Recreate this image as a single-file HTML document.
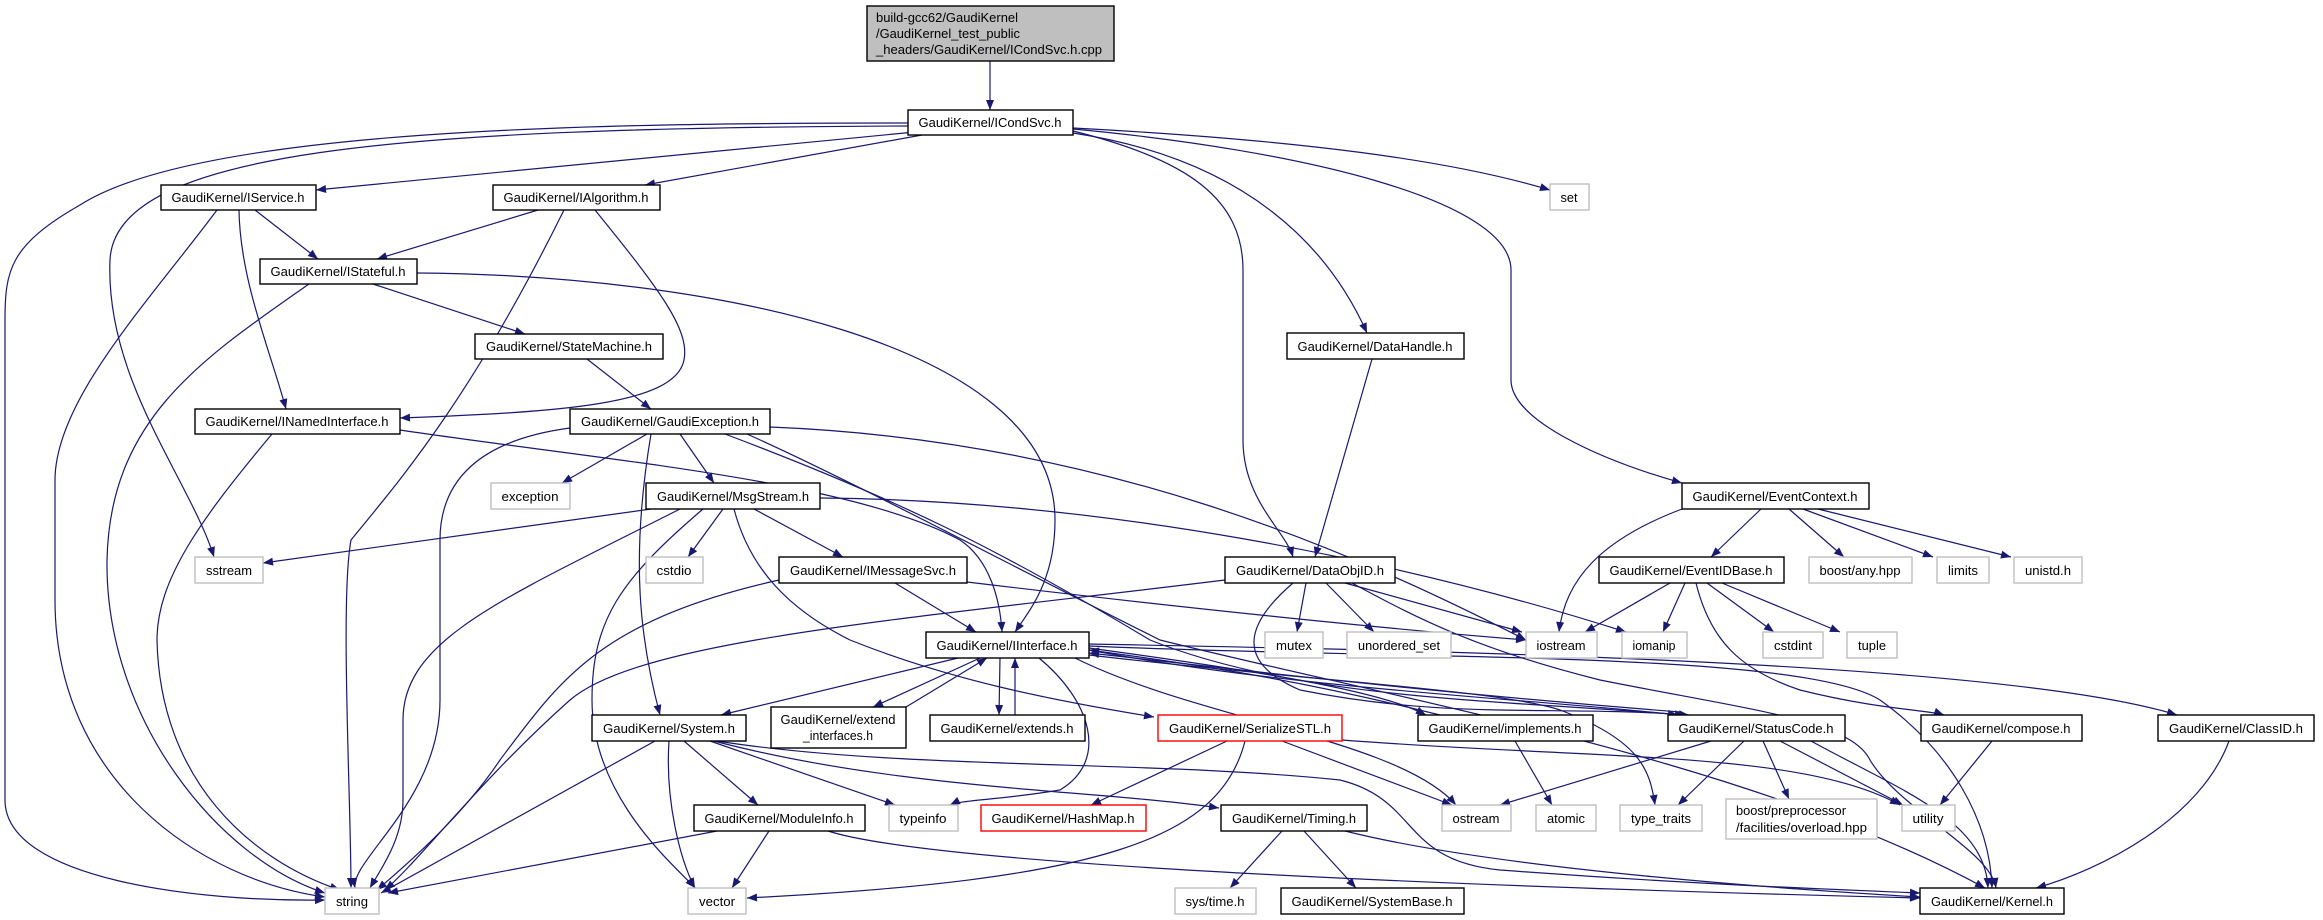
<!DOCTYPE html>
<html><head><meta charset="utf-8"><style>
html,body{margin:0;padding:0;background:#fff;width:2323px;height:920px;overflow:hidden}
svg{display:block}
text{font-family:"Liberation Sans",Arial,sans-serif;font-size:12.5px;fill:#000}
.n rect{fill:#fff;stroke:#000;stroke-width:1.4}
.g rect{fill:#fff;stroke:#bfbfbf;stroke-width:1.4}
.r rect{fill:#fff;stroke:#ff0000;stroke-width:1.4}
path.e{fill:none;stroke:#191970;stroke-width:1.2}
</style></head><body>
<svg width="2323" height="920" viewBox="0 0 2323 920" xmlns="http://www.w3.org/2000/svg">
<defs><marker id="a" viewBox="0 0 10 8" refX="10" refY="4" markerWidth="11" markerHeight="8" markerUnits="userSpaceOnUse" orient="auto"><path d="M0,0L10,4L0,8z" fill="#191970"/></marker></defs>
<g marker-end="url(#a)">
<path class="e" d="M990,61L990,110"/>
<path class="e" d="M908,123C600,123 200,128 80,205C10,245 5,270 5,320L5,800C5,880 200,902 325,900"/>
<path class="e" d="M908,126C400,128 115,150 110,260C105,380 190,480 214,557"/>
<path class="e" d="M915,132L316,190"/>
<path class="e" d="M922,135L645,185"/>
<path class="e" d="M1073,128C1300,140 1450,160 1550,190"/>
<path class="e" d="M1073,131C1190,160 1243,200 1243,270L1243,440C1243,500 1285,530 1293,557"/>
<path class="e" d="M1073,133C1250,160 1330,250 1367,333"/>
<path class="e" d="M1073,129C1300,150 1511,200 1511,270L1511,380C1511,420 1600,460 1682,483"/>
<path class="e" d="M255,210L318,259"/>
<path class="e" d="M239,210C240,280 270,350 286,409"/>
<path class="e" d="M217,210C150,300 55,400 55,480L55,600C55,780 200,880 325,897"/>
<path class="e" d="M538,210L377,259"/>
<path class="e" d="M564,210C470,400 400,480 351,540C340,600 351,800 351,888"/>
<path class="e" d="M595,210C660,290 690,330 684,360C675,405 560,412 400,418"/>
<path class="e" d="M373,284L525,334"/>
<path class="e" d="M309,284C200,360 110,420 107,560C105,720 220,860 325,893"/>
<path class="e" d="M417,273C700,275 1055,340 1055,520C1055,580 1030,610 1015,632"/>
<path class="e" d="M587,359L651,409"/>
<path class="e" d="M272,434C200,520 157,580 157,640C160,780 250,860 340,890"/>
<path class="e" d="M400,430C600,460 850,480 960,540C990,560 1000,600 1002,632"/>
<path class="e" d="M647,434L562,483"/>
<path class="e" d="M680,434L714,483"/>
<path class="e" d="M570,428C480,440 440,480 440,540L440,700C440,800 350,860 355,888"/>
<path class="e" d="M651,434C630,560 640,640 660,715"/>
<path class="e" d="M770,427C1100,440 1350,550 1526,640"/>
<path class="e" d="M725,434C900,500 1000,550 1150,640C1300,700 1500,700 1685,715"/>
<path class="e" d="M747,434C850,480 1000,560 1160,640C1400,700 1750,760 1985,888"/>
<path class="e" d="M651,509L263,563"/>
<path class="e" d="M680,509C500,600 403,640 403,720L403,800C403,840 380,870 370,888"/>
<path class="e" d="M723,509L688,557"/>
<path class="e" d="M754,509L843,557"/>
<path class="e" d="M703,509C620,580 592,620 592,700C592,800 680,870 695,888"/>
<path class="e" d="M734,509C750,570 790,610 850,640C950,680 1050,700 1154,717"/>
<path class="e" d="M820,498C1100,500 1400,560 1626,632"/>
<path class="e" d="M779,580C600,620 560,680 500,760C460,820 400,870 377,890"/>
<path class="e" d="M895,583L976,632"/>
<path class="e" d="M967,582C1200,610 1400,630 1526,640"/>
<path class="e" d="M958,658L721,715"/>
<path class="e" d="M980,658L873,707"/>
<path class="e" d="M906,707L987,658"/>
<path class="e" d="M1000,658L999,715"/>
<path class="e" d="M1015,715L1015,658"/>
<path class="e" d="M1039,658C1090,700 1110,760 1060,790C1000,800 960,800 950,805"/>
<path class="e" d="M1089,648C1250,670 1380,690 1426,715"/>
<path class="e" d="M1440,715C1300,680 1200,665 1089,650"/>
<path class="e" d="M1089,650C1300,690 1550,700 1678,715"/>
<path class="e" d="M1680,712C1400,690 1200,665 1089,653"/>
<path class="e" d="M1075,658C1200,720 1400,740 1456,805"/>
<path class="e" d="M1089,655C1300,680 1500,690 1560,710C1640,740 1650,770 1655,805"/>
<path class="e" d="M1089,646C1400,660 1800,650 1880,700C1950,750 1990,820 1992,888"/>
<path class="e" d="M1089,644C1400,650 2000,660 2177,715"/>
<path class="e" d="M655,741L381,893"/>
<path class="e" d="M669,741C665,800 680,860 695,888"/>
<path class="e" d="M684,741L758,805"/>
<path class="e" d="M710,741L895,805"/>
<path class="e" d="M714,741C900,790 1100,790 1219,808"/>
<path class="e" d="M717,741C900,770 1150,760 1340,780C1420,800 1400,860 1500,870C1700,885 1850,890 1920,893"/>
<path class="e" d="M717,831L388,893"/>
<path class="e" d="M769,831L732,888"/>
<path class="e" d="M828,831C950,870 1600,890 1920,898"/>
<path class="e" d="M1227,741L1091,805"/>
<path class="e" d="M1245,741C1220,840 1100,880 747,898"/>
<path class="e" d="M1282,741L1452,805"/>
<path class="e" d="M1342,740C1600,760 1800,750 1900,805"/>
<path class="e" d="M1225,580C900,620 640,640 570,700C480,780 420,860 385,890"/>
<path class="e" d="M1306,583L1297,632"/>
<path class="e" d="M1326,583L1374,632"/>
<path class="e" d="M1345,583L1522,632"/>
<path class="e" d="M1293,583C1250,620 1230,660 1300,690C1450,720 1550,705 1689,715"/>
<path class="e" d="M1352,583C1420,620 1480,650 1600,680C1750,710 1850,720 1870,760C1900,810 1990,850 1996,888"/>
<path class="e" d="M1372,359L1315,557"/>
<path class="e" d="M1682,509C1600,540 1565,580 1559,632"/>
<path class="e" d="M1761,509L1711,557"/>
<path class="e" d="M1789,509L1844,557"/>
<path class="e" d="M1803,509L1933,557"/>
<path class="e" d="M1818,509L2011,557"/>
<path class="e" d="M1670,583L1585,632"/>
<path class="e" d="M1685,583L1663,632"/>
<path class="e" d="M1707,583L1774,632"/>
<path class="e" d="M1722,583L1840,632"/>
<path class="e" d="M1696,583C1710,640 1740,670 1800,690C1880,710 1930,710 1944,715"/>
<path class="e" d="M1515,741L1552,805"/>
<path class="e" d="M1711,741L1500,805"/>
<path class="e" d="M1744,741L1678,805"/>
<path class="e" d="M1763,741L1789,799"/>
<path class="e" d="M1780,741L1903,805"/>
<path class="e" d="M1811,741C1900,790 1985,820 1988,888"/>
<path class="e" d="M1992,741L1940,805"/>
<path class="e" d="M2229,741C2200,820 2100,870 2036,888"/>
<path class="e" d="M1282,831L1230,888"/>
<path class="e" d="M1304,831L1356,888"/>
<path class="e" d="M1345,831C1500,870 1800,890 1920,897"/>
</g>

<g class="n"><rect x="867" y="6" width="247" height="55" style="fill:#bfbfbf"/>
<text x="876" y="22" textLength="142" lengthAdjust="spacingAndGlyphs">build-gcc62/GaudiKernel</text>
<text x="876" y="38" textLength="144" lengthAdjust="spacingAndGlyphs">/GaudiKernel_test_public</text>
<text x="876" y="54" textLength="226" lengthAdjust="spacingAndGlyphs">_headers/GaudiKernel/ICondSvc.h.cpp</text></g>

<g text-anchor="middle">
<g class="n"><rect x="908" y="110" width="165" height="25"/><text x="990" y="127" textLength="143" lengthAdjust="spacingAndGlyphs">GaudiKernel/ICondSvc.h</text></g>
<g class="n"><rect x="161" y="185" width="155" height="25"/><text x="238" y="202" textLength="133" lengthAdjust="spacingAndGlyphs">GaudiKernel/IService.h</text></g>
<g class="n"><rect x="493" y="185" width="167" height="25"/><text x="576" y="202" textLength="145" lengthAdjust="spacingAndGlyphs">GaudiKernel/IAlgorithm.h</text></g>
<g class="g"><rect x="1550" y="184" width="39" height="26"/><text x="1569" y="202" textLength="17" lengthAdjust="spacingAndGlyphs">set</text></g>
<g class="n"><rect x="260" y="259" width="157" height="25"/><text x="338" y="276" textLength="135" lengthAdjust="spacingAndGlyphs">GaudiKernel/IStateful.h</text></g>
<g class="n"><rect x="475" y="334" width="188" height="25"/><text x="569" y="351" textLength="166" lengthAdjust="spacingAndGlyphs">GaudiKernel/StateMachine.h</text></g>
<g class="n"><rect x="1287" y="333" width="177" height="26"/><text x="1375" y="351" textLength="155" lengthAdjust="spacingAndGlyphs">GaudiKernel/DataHandle.h</text></g>
<g class="n"><rect x="195" y="409" width="205" height="25"/><text x="297" y="426" textLength="183" lengthAdjust="spacingAndGlyphs">GaudiKernel/INamedInterface.h</text></g>
<g class="n"><rect x="570" y="409" width="200" height="25"/><text x="670" y="426" textLength="178" lengthAdjust="spacingAndGlyphs">GaudiKernel/GaudiException.h</text></g>
<g class="g"><rect x="491" y="483" width="79" height="26"/><text x="530" y="501" textLength="57" lengthAdjust="spacingAndGlyphs">exception</text></g>
<g class="n"><rect x="646" y="483" width="174" height="26"/><text x="733" y="501" textLength="152" lengthAdjust="spacingAndGlyphs">GaudiKernel/MsgStream.h</text></g>
<g class="n"><rect x="1682" y="483" width="187" height="26"/><text x="1775" y="501" textLength="165" lengthAdjust="spacingAndGlyphs">GaudiKernel/EventContext.h</text></g>
<g class="g"><rect x="195" y="557" width="68" height="26"/><text x="229" y="575" textLength="46" lengthAdjust="spacingAndGlyphs">sstream</text></g>
<g class="g"><rect x="646" y="557" width="57" height="26"/><text x="674" y="575" textLength="35" lengthAdjust="spacingAndGlyphs">cstdio</text></g>
<g class="n"><rect x="779" y="557" width="188" height="26"/><text x="873" y="575" textLength="166" lengthAdjust="spacingAndGlyphs">GaudiKernel/IMessageSvc.h</text></g>
<g class="n"><rect x="1225" y="557" width="170" height="26"/><text x="1310" y="575" textLength="148" lengthAdjust="spacingAndGlyphs">GaudiKernel/DataObjID.h</text></g>
<g class="n"><rect x="1599" y="557" width="185" height="26"/><text x="1691" y="575" textLength="163" lengthAdjust="spacingAndGlyphs">GaudiKernel/EventIDBase.h</text></g>
<g class="g"><rect x="1809" y="557" width="103" height="26"/><text x="1860" y="575" textLength="81" lengthAdjust="spacingAndGlyphs">boost/any.hpp</text></g>
<g class="g"><rect x="1937" y="557" width="52" height="26"/><text x="1963" y="575" textLength="30" lengthAdjust="spacingAndGlyphs">limits</text></g>
<g class="g"><rect x="2014" y="557" width="68" height="26"/><text x="2048" y="575" textLength="46" lengthAdjust="spacingAndGlyphs">unistd.h</text></g>
<g class="n"><rect x="926" y="632" width="163" height="26"/><text x="1007" y="650" textLength="141" lengthAdjust="spacingAndGlyphs">GaudiKernel/IInterface.h</text></g>
<g class="g"><rect x="1265" y="632" width="58" height="26"/><text x="1294" y="650" textLength="36" lengthAdjust="spacingAndGlyphs">mutex</text></g>
<g class="g"><rect x="1347" y="632" width="104" height="26"/><text x="1399" y="650" textLength="82" lengthAdjust="spacingAndGlyphs">unordered_set</text></g>
<g class="g"><rect x="1526" y="632" width="71" height="26"/><text x="1561" y="650" textLength="49" lengthAdjust="spacingAndGlyphs">iostream</text></g>
<g class="g"><rect x="1622" y="632" width="65" height="26"/><text x="1654" y="650" textLength="43" lengthAdjust="spacingAndGlyphs">iomanip</text></g>
<g class="g"><rect x="1763" y="632" width="60" height="26"/><text x="1793" y="650" textLength="38" lengthAdjust="spacingAndGlyphs">cstdint</text></g>
<g class="g"><rect x="1847" y="632" width="50" height="26"/><text x="1872" y="650" textLength="28" lengthAdjust="spacingAndGlyphs">tuple</text></g>
<g class="n"><rect x="592" y="715" width="154" height="26"/><text x="669" y="733" textLength="132" lengthAdjust="spacingAndGlyphs">GaudiKernel/System.h</text></g>
<g class="n"><rect x="771" y="707" width="135" height="41"/><text x="838" y="724" textLength="115" lengthAdjust="spacingAndGlyphs">GaudiKernel/extend</text><text x="838" y="740" textLength="70" lengthAdjust="spacingAndGlyphs">_interfaces.h</text></g>
<g class="n"><rect x="930" y="715" width="155" height="26"/><text x="1007" y="733" textLength="133" lengthAdjust="spacingAndGlyphs">GaudiKernel/extends.h</text></g>
<g class="r"><rect x="1158" y="715" width="184" height="26"/><text x="1250" y="733" textLength="162" lengthAdjust="spacingAndGlyphs">GaudiKernel/SerializeSTL.h</text></g>
<g class="n"><rect x="1418" y="715" width="175" height="26"/><text x="1505" y="733" textLength="153" lengthAdjust="spacingAndGlyphs">GaudiKernel/implements.h</text></g>
<g class="n"><rect x="1668" y="715" width="177" height="26"/><text x="1756" y="733" textLength="155" lengthAdjust="spacingAndGlyphs">GaudiKernel/StatusCode.h</text></g>
<g class="n"><rect x="1921" y="715" width="161" height="26"/><text x="2001" y="733" textLength="139" lengthAdjust="spacingAndGlyphs">GaudiKernel/compose.h</text></g>
<g class="n"><rect x="2158" y="715" width="156" height="26"/><text x="2236" y="733" textLength="134" lengthAdjust="spacingAndGlyphs">GaudiKernel/ClassID.h</text></g>
<g class="n"><rect x="694" y="805" width="171" height="26"/><text x="779" y="823" textLength="149" lengthAdjust="spacingAndGlyphs">GaudiKernel/ModuleInfo.h</text></g>
<g class="g"><rect x="889" y="805" width="69" height="26"/><text x="923" y="823" textLength="47" lengthAdjust="spacingAndGlyphs">typeinfo</text></g>
<g class="r"><rect x="981" y="805" width="165" height="26"/><text x="1063" y="823" textLength="143" lengthAdjust="spacingAndGlyphs">GaudiKernel/HashMap.h</text></g>
<g class="n"><rect x="1221" y="805" width="146" height="26"/><text x="1294" y="823" textLength="124" lengthAdjust="spacingAndGlyphs">GaudiKernel/Timing.h</text></g>
<g class="g"><rect x="1442" y="805" width="69" height="26"/><text x="1476" y="823" textLength="47" lengthAdjust="spacingAndGlyphs">ostream</text></g>
<g class="g"><rect x="1536" y="805" width="60" height="26"/><text x="1566" y="823" textLength="38" lengthAdjust="spacingAndGlyphs">atomic</text></g>
<g class="g"><rect x="1620" y="805" width="82" height="26"/><text x="1661" y="823" textLength="60" lengthAdjust="spacingAndGlyphs">type_traits</text></g>
<g class="g"><rect x="1726" y="799" width="151" height="40"/><text x="1736" y="815" text-anchor="start" textLength="110" lengthAdjust="spacingAndGlyphs">boost/preprocessor</text><text x="1736" y="832" text-anchor="start" textLength="131" lengthAdjust="spacingAndGlyphs">/facilities/overload.hpp</text></g>
<g class="g"><rect x="1902" y="805" width="53" height="26"/><text x="1928" y="823" textLength="31" lengthAdjust="spacingAndGlyphs">utility</text></g>
<g class="g"><rect x="325" y="888" width="54" height="26"/><text x="352" y="906" textLength="32" lengthAdjust="spacingAndGlyphs">string</text></g>
<g class="g"><rect x="688" y="888" width="58" height="26"/><text x="717" y="906" textLength="36" lengthAdjust="spacingAndGlyphs">vector</text></g>
<g class="g"><rect x="1175" y="888" width="81" height="26"/><text x="1215" y="906" textLength="59" lengthAdjust="spacingAndGlyphs">sys/time.h</text></g>
<g class="n"><rect x="1281" y="888" width="183" height="26"/><text x="1372" y="906" textLength="161" lengthAdjust="spacingAndGlyphs">GaudiKernel/SystemBase.h</text></g>
<g class="n"><rect x="1920" y="888" width="144" height="26"/><text x="1992" y="906" textLength="122" lengthAdjust="spacingAndGlyphs">GaudiKernel/Kernel.h</text></g>
</g>
</svg>
</body></html>
